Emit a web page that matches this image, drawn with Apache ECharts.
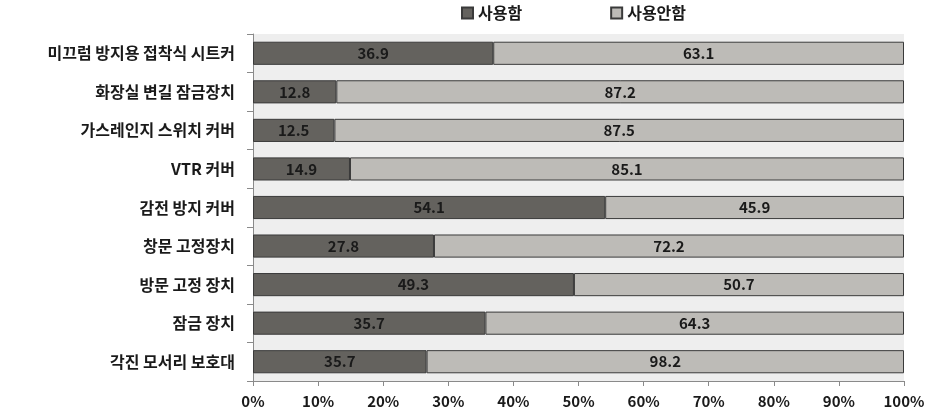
<!DOCTYPE html>
<html><head><meta charset="utf-8">
<script src="https://cdn.jsdelivr.net/npm/echarts@6/dist/echarts.min.js"></script>
<style>html,body{margin:0;padding:0;background:#fff}#c{width:939px;height:420px}</style>
</head><body><div id="c"></div>
<script>
const categories = ['미끄럼 방지용 접착식 시트커','화장실 변길 잠금장치','가스레인지 스위치 커버','VTR 커버','감전 방지 커버','창문 고정장치','방문 고정 장치','잠금 장치','각진 모서리 보호대'];
const used = [36.9, 12.8, 12.5, 14.9, 54.1, 27.8, 49.3, 35.7, 35.7];
const notUsed = [63.1, 87.2, 87.5, 85.1, 45.9, 72.2, 50.7, 64.3, 98.2];
const seriesNames = ['사용함','사용안함'];
const xTicks = [0,10,20,30,40,50,60,70,80,90,100];

const FONT = '"Noto Sans CJK KR", "Noto Sans", sans-serif';
function share(arr, i) { return arr[i] / (used[i] + notUsed[i]) * 100; }
function mk(arr) {
  return arr.map((v, i) => ({ value: share(arr, i), raw: v }));
}
const chart = echarts.init(document.getElementById('c'));
const labelCfg = {
  show: true, position: 'inside', color: '#1a1a1a', fontFamily: FONT,
  fontWeight: 'bold', fontSize: 15,
  formatter: p => p.data.raw.toFixed(1)
};
chart.setOption({
  animation: false,
  textStyle: { fontFamily: FONT },
  legend: {
    top: 0, left: 456, itemGap: 88, itemWidth: 11, itemHeight: 11,
    icon: 'rect',
    textStyle: { fontFamily: FONT, fontWeight: 'bold', fontSize: 16, color: '#1a1a1a', padding: [0,0,0,0] },
    data: seriesNames
  },
  grid: { left: 253, right: 35, top: 34, bottom: 39, show: true, backgroundColor: '#eeeeee', borderWidth: 0 },
  xAxis: {
    type: 'value', min: 0, max: 100, interval: 10,
    axisLine: { show: true, lineStyle: { color: '#8a8a8a' } },
    axisTick: { show: true, length: 5, lineStyle: { color: '#8a8a8a' } },
    splitLine: { show: false },
    axisLabel: { formatter: v => xTicks.includes(v) ? v + '%' : '', fontFamily: FONT, fontWeight: 'bold', fontSize: 15, color: '#1a1a1a', margin: 13 }
  },
  yAxis: {
    type: 'category', data: categories, inverse: true,
    axisLine: { show: true, lineStyle: { color: '#8a8a8a' } },
    axisTick: { show: true, length: 6, lineStyle: { color: '#8a8a8a' } },
    axisLabel: { fontFamily: FONT, fontWeight: 'bold', fontSize: 16, color: '#1a1a1a', margin: 18 }
  },
  series: [
    { name: seriesNames[0], type: 'bar', stack: 's', barWidth: '60%', data: mk(used),
      itemStyle: { color: '#64625e', borderColor: '#3a3a3a', borderWidth: 1 }, label: labelCfg },
    { name: seriesNames[1], type: 'bar', stack: 's', barWidth: '60%', data: mk(notUsed),
      itemStyle: { color: '#bdbbb7', borderColor: '#3a3a3a', borderWidth: 1 }, label: labelCfg }
  ]
});
</script></body></html>
